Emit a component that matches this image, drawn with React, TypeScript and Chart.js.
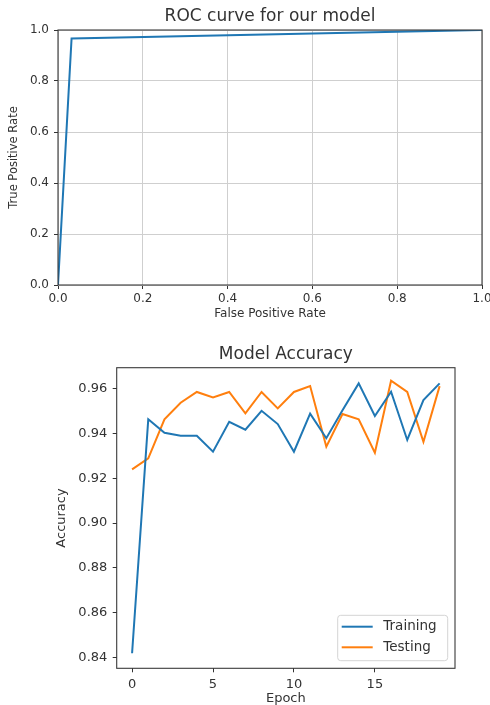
import React, { useEffect, useRef } from "react";
import { Chart, registerables } from "chart.js";
Chart.register(...registerables);

// ---------- data ----------
const rocFpr = [0, 0.032, 1];
const rocTpr = [0, 0.967, 1];
const rocTicks = [0, 0.2, 0.4, 0.6, 0.8, 1.0];

const epochs = [0, 1, 2, 3, 4, 5, 6, 7, 8, 9, 10, 11, 12, 13, 14, 15, 16, 17, 18, 19];
const trainingAcc = [0.842, 0.9462, 0.9402, 0.9389, 0.9389, 0.9318, 0.9451, 0.9416, 0.95, 0.9441, 0.9318, 0.9487, 0.9378, 0.9503, 0.9622, 0.9477, 0.9585, 0.937, 0.9548, 0.9622];
const testingAcc = [0.9239, 0.9288, 0.9462, 0.9536, 0.9584, 0.956, 0.9584, 0.9489, 0.9584, 0.9511, 0.9584, 0.961, 0.934, 0.9486, 0.9462, 0.9313, 0.9634, 0.9584, 0.9362, 0.961];
const accYTicks = [0.84, 0.86, 0.88, 0.9, 0.92, 0.94, 0.96];
const epochTicks = [0, 5, 10, 15];

const FONT = "DejaVu Sans";
const TXT = "#333333";
const BLUE = "#1f77b4";
const ORANGE = "#ff7f0e";

const framePlugin = {
  id: "frameBox",
  afterDatasetsDraw(chart: any) {
    const { ctx, chartArea: a } = chart;
    ctx.save();
    ctx.strokeStyle = "#3a3a3a";
    ctx.lineWidth = 1.1;
    ctx.strokeRect(a.left, a.top, a.right - a.left, a.bottom - a.top);
    ctx.restore();
  },
};

const titlePlugin = (text: string, y: number, size: number) => ({
  id: "customTitle",
  afterDraw(chart: any) {
    const { ctx, chartArea: a } = chart;
    ctx.save();
    ctx.fillStyle = TXT;
    ctx.font = `${size}px "${FONT}"`;
    ctx.textAlign = "center";
    ctx.textBaseline = "middle";
    ctx.fillText(text, (a.left + a.right) / 2, y);
    ctx.restore();
  },
});

const legendPlugin = {
  id: "accLegend",
  afterDraw(chart: any) {
    const { ctx, chartArea: a } = chart;
    const w = 110;
    const h = 45.4;
    const x = a.right - 7.3 - w;
    const y = a.bottom - 7.6 - h;
    ctx.save();
    ctx.beginPath();
    const r = 3;
    ctx.moveTo(x + r, y);
    ctx.lineTo(x + w - r, y);
    ctx.arcTo(x + w, y, x + w, y + r, r);
    ctx.lineTo(x + w, y + h - r);
    ctx.arcTo(x + w, y + h, x + w - r, y + h, r);
    ctx.lineTo(x + r, y + h);
    ctx.arcTo(x, y + h, x, y + h - r, r);
    ctx.lineTo(x, y + r);
    ctx.arcTo(x, y, x + r, y, r);
    ctx.closePath();
    ctx.fillStyle = "rgba(255,255,255,0.85)";
    ctx.fill();
    ctx.strokeStyle = "#d4d4d4";
    ctx.lineWidth = 1;
    ctx.stroke();
    chart.data.datasets.forEach((ds: any, i: number) => {
      const ly = y + 11.4 + i * 20.6;
      ctx.beginPath();
      ctx.strokeStyle = ds.borderColor;
      ctx.lineWidth = 2;
      ctx.moveTo(x + 4, ly);
      ctx.lineTo(x + 35, ly);
      ctx.stroke();
      ctx.fillStyle = TXT;
      ctx.font = `13.5px "${FONT}"`;
      ctx.textAlign = "left";
      ctx.textBaseline = "middle";
      ctx.fillText(ds.label, x + 45.6, ly);
    });
    ctx.restore();
  },
};

const fixH = (h: number) => (s: any) => {
  s.height = h;
  s.paddingLeft = 0;
  s.paddingRight = 0;
};
const fixW = (w: number) => (s: any) => {
  s.width = w;
  s.paddingTop = 0;
  s.paddingBottom = 0;
};

function RocChart() {
  const ref = useRef<HTMLCanvasElement>(null);
  useEffect(() => {
    const chart = new Chart(ref.current!, {
      type: "line",
      data: {
        datasets: [
          {
            label: "ROC",
            data: rocFpr.map((f, i) => ({ x: f, y: rocTpr[i] })),
            borderColor: BLUE,
            borderWidth: 2,
            pointRadius: 0,
            tension: 0,
            fill: false,
          },
        ],
      },
      options: {
        animation: false,
        responsive: false,
        layout: { padding: { top: 30, right: 8, left: 0, bottom: 0 } },
        plugins: { legend: { display: false }, tooltip: { enabled: false }, title: { display: false } },
        scales: {
          x: {
            type: "linear",
            min: 0,
            max: 1,
            afterFit: fixH(45),
            afterBuildTicks: (s: any) => { s.ticks = rocTicks.map((v) => ({ value: v })); },
            ticks: {
              color: TXT,
              font: { family: FONT, size: 12 },
              padding: 3,
              maxRotation: 0,
              callback: (v: any) => Number(v).toFixed(1),
            },
            grid: { color: "#cfcfcf", lineWidth: 1, tickLength: 4, tickColor: "#333", drawTicks: true },
            border: { display: false },
            title: {
              display: true,
              text: "False Positive Rate",
              color: TXT,
              font: { family: FONT, size: 12 },
              padding: { top: 0, bottom: 8.8 },
            },
          },
          y: {
            type: "linear",
            min: 0,
            max: 1,
            afterFit: fixW(58),
            afterBuildTicks: (s: any) => { s.ticks = rocTicks.map((v) => ({ value: v })); },
            ticks: {
              color: TXT,
              font: { family: FONT, size: 12 },
              padding: 5,
              callback: (v: any) => Number(v).toFixed(1),
            },
            grid: { color: "#cfcfcf", lineWidth: 1, tickLength: 4, tickColor: "#333", drawTicks: true },
            border: { display: false },
            title: {
              display: true,
              text: "True Positive Rate",
              color: TXT,
              font: { family: FONT, size: 11.5 },
              padding: { top: 7, bottom: 0 },
            },
          },
        },
      },
      plugins: [framePlugin, titlePlugin("ROC curve for our model", 17, 17)],
    } as any);
    return () => chart.destroy();
  }, []);
  return (
    <canvas
      ref={ref}
      width={490}
      height={330}
      style={{ position: "absolute", left: 0, top: 0, width: 490, height: 330 }}
    />
  );
}

function AccuracyChart() {
  const ref = useRef<HTMLCanvasElement>(null);
  useEffect(() => {
    const chart = new Chart(ref.current!, {
      type: "line",
      data: {
        datasets: [
          {
            label: "Training",
            data: epochs.map((e, i) => ({ x: e, y: trainingAcc[i] })),
            borderColor: BLUE,
            borderWidth: 2,
            pointRadius: 0,
            tension: 0,
            fill: false,
          },
          {
            label: "Testing",
            data: epochs.map((e, i) => ({ x: e, y: testingAcc[i] })),
            borderColor: ORANGE,
            borderWidth: 2,
            pointRadius: 0,
            tension: 0,
            fill: false,
          },
        ],
      },
      options: {
        animation: false,
        responsive: false,
        layout: { padding: { top: 37.7, right: 35, left: 0, bottom: 0 } },
        plugins: { legend: { display: false }, tooltip: { enabled: false }, title: { display: false } },
        scales: {
          x: {
            type: "linear",
            min: -0.95,
            max: 19.95,
            afterFit: fixH(51.7),
            afterBuildTicks: (s: any) => { s.ticks = epochTicks.map((v) => ({ value: v })); },
            ticks: {
              color: TXT,
              font: { family: FONT, size: 13 },
              padding: 4.5,
              maxRotation: 0,
              callback: (v: any) => String(v),
            },
            grid: { drawOnChartArea: false, color: "#333", tickLength: 4, tickColor: "#333", drawTicks: true },
            border: { display: false },
            title: {
              display: true,
              text: "Epoch",
              color: TXT,
              font: { family: FONT, size: 13 },
              padding: { top: 0, bottom: 13.2 },
            },
          },
          y: {
            type: "linear",
            min: 0.8353,
            max: 0.9692,
            afterFit: fixW(116.7),
            afterBuildTicks: (s: any) => { s.ticks = accYTicks.map((v) => ({ value: v })); },
            ticks: {
              color: TXT,
              font: { family: FONT, size: 13 },
              padding: 5.4,
              callback: (v: any) => Number(v).toFixed(2),
            },
            grid: { drawOnChartArea: false, color: "#333", tickLength: 4, tickColor: "#333", drawTicks: true },
            border: { display: false },
            title: {
              display: true,
              text: "Accuracy",
              color: TXT,
              font: { family: FONT, size: 13 },
              padding: { top: 53.9, bottom: 0 },
            },
          },
        },
      },
      plugins: [framePlugin, titlePlugin("Model Accuracy", 25, 17), legendPlugin],
    } as any);
    return () => chart.destroy();
  }, []);
  return (
    <canvas
      ref={ref}
      width={490}
      height={390}
      style={{ position: "absolute", left: 0, top: 330, width: 490, height: 390 }}
    />
  );
}

export default function App() {
  return (
    <div
      style={{
        position: "absolute",
        left: 0,
        top: 0,
        width: 490,
        height: 705,
        overflow: "hidden",
        background: "#ffffff",
      }}
    >
      <RocChart />
      <AccuracyChart />
    </div>
  );
}
